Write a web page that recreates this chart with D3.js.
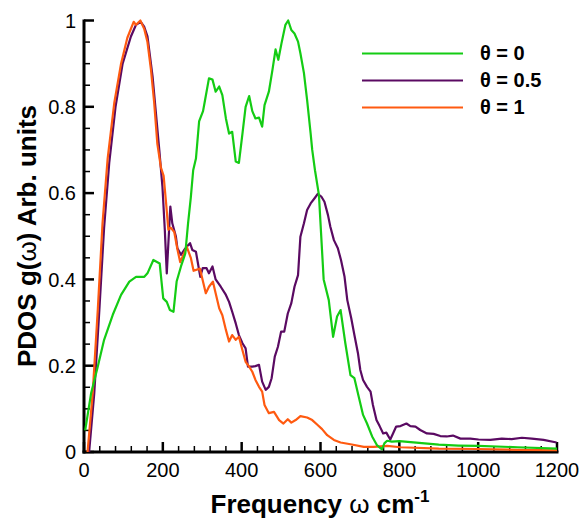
<!DOCTYPE html>
<html>
<head>
<meta charset="utf-8">
<script src="https://cdn.jsdelivr.net/npm/d3@7"></script>
<style>
    body { margin: 0; background: #fff; }
    svg { font-family: "Liberation Sans", Arial, Helvetica, sans-serif; }
</style>
</head>
<body>
<svg id="chart" width="580" height="520"></svg>
<script>
// PDOS curves, [frequency cm^-1, g(w)]
let theta0 = [
    [3, 0.05], [18, 0.136], [35, 0.198], [51, 0.26], [73, 0.318], [94, 0.364], [115, 0.395],
    [132, 0.406], [153, 0.406], [161, 0.414], [176, 0.445], [192, 0.437], [201, 0.356], [210, 0.348],
    [218, 0.329], [227, 0.325], [235, 0.395], [246, 0.43], [257, 0.46], [264, 0.53], [271, 0.59],
    [277, 0.653], [284, 0.68], [292, 0.766], [302, 0.79], [306, 0.81], [317, 0.866], [326, 0.863],
    [334, 0.835], [343, 0.847], [351, 0.827], [360, 0.773], [368, 0.738], [376, 0.742], [385, 0.673],
    [393, 0.67], [402, 0.738], [410, 0.8], [419, 0.825], [427, 0.79], [435, 0.773], [444, 0.775],
    [452, 0.754], [458, 0.804], [469, 0.835], [478, 0.885], [486, 0.933], [493, 0.909], [501, 0.947],
    [511, 0.99], [518, 1.0], [526, 0.978], [534, 0.97], [543, 0.951], [549, 0.924], [558, 0.878],
    [566, 0.816], [575, 0.738], [579, 0.70], [586, 0.653], [596, 0.596], [608, 0.40], [621, 0.352],
    [632, 0.267], [642, 0.314], [651, 0.329], [663, 0.252], [676, 0.178], [686, 0.171], [697, 0.128],
    [708, 0.086], [718, 0.066], [731, 0.036], [743, 0.016], [756, 0.006], [762, 0.02], [769, 0.026],
    [781, 0.024], [800, 0.025], [850, 0.021], [900, 0.017], [950, 0.015], [1000, 0.014],
    [1100, 0.011], [1200, 0.008]
];
let theta05 = [
    [13, 0], [26, 0.136], [39, 0.33], [51, 0.52], [64, 0.67], [80, 0.80], [98, 0.90], [119, 0.963],
    [132, 0.99], [144, 0.997], [153, 0.985], [161, 0.963], [174, 0.87], [191, 0.70], [199, 0.615],
    [205, 0.515], [210, 0.414], [219, 0.569], [224, 0.53], [233, 0.50], [237, 0.472], [246, 0.457],
    [254, 0.468], [261, 0.476], [269, 0.484], [275, 0.468], [284, 0.464], [295, 0.406], [301, 0.426],
    [311, 0.426], [317, 0.414], [326, 0.43], [334, 0.40], [347, 0.383], [360, 0.364], [368, 0.348],
    [376, 0.325], [385, 0.298], [393, 0.271], [402, 0.252], [410, 0.24], [416, 0.198], [427, 0.198],
    [435, 0.199], [444, 0.202], [452, 0.163], [461, 0.144], [469, 0.151], [476, 0.171], [484, 0.221],
    [492, 0.244], [500, 0.279], [508, 0.279], [517, 0.321], [526, 0.345], [534, 0.383], [543, 0.41],
    [549, 0.499], [558, 0.53], [566, 0.561], [575, 0.576], [585, 0.588], [593, 0.598], [602, 0.592],
    [610, 0.58], [619, 0.549], [625, 0.522], [634, 0.491], [644, 0.472], [652, 0.445], [661, 0.406],
    [668, 0.352], [678, 0.31], [686, 0.271], [695, 0.229], [701, 0.19], [708, 0.167], [718, 0.151],
    [727, 0.14], [733, 0.109], [742, 0.074], [750, 0.06], [759, 0.043], [767, 0.045], [777, 0.029],
    [784, 0.043], [792, 0.059], [803, 0.06], [818, 0.066], [828, 0.06], [841, 0.059], [853, 0.051],
    [870, 0.043], [887, 0.042], [904, 0.037], [920, 0.036], [936, 0.038], [955, 0.031], [980, 0.031],
    [1001, 0.029], [1031, 0.028], [1060, 0.031], [1085, 0.03], [1111, 0.033], [1136, 0.031],
    [1166, 0.028], [1199, 0.022]
];
let theta1 = [
    [9, 0], [22, 0.136], [35, 0.33], [47, 0.53], [60, 0.68], [77, 0.81], [94, 0.90], [110, 0.96],
    [126, 0.997], [132, 0.99], [143, 1.0], [153, 0.98], [161, 0.95], [170, 0.885], [178, 0.81],
    [186, 0.715], [195, 0.66], [202, 0.64], [208, 0.58], [214, 0.515], [220, 0.52], [229, 0.51],
    [237, 0.47], [244, 0.44], [261, 0.475], [271, 0.45], [278, 0.42], [294, 0.425], [309, 0.368],
    [317, 0.383], [327, 0.395], [334, 0.368], [343, 0.333], [351, 0.317], [360, 0.283], [368, 0.256],
    [376, 0.271], [385, 0.26], [393, 0.267], [402, 0.236], [410, 0.209], [419, 0.198], [427, 0.186],
    [435, 0.167], [444, 0.151], [452, 0.14], [458, 0.109], [469, 0.09], [482, 0.093], [495, 0.074],
    [506, 0.066], [517, 0.076], [526, 0.068], [537, 0.074], [549, 0.083], [566, 0.08], [579, 0.074],
    [592, 0.063], [604, 0.053], [617, 0.039], [634, 0.028], [651, 0.022], [676, 0.018], [710, 0.012],
    [735, 0.012], [769, 0.014], [803, 0.011], [900, 0.008], [1000, 0.007], [1100, 0.005], [1200, 0.004]
];

let seriesNames = ["θ = 0", "θ = 0.5", "θ = 1"];
let seriesColors = ["#14cc14", "#5a0a62", "#ff5a10"];
let xTicks = [0, 200, 400, 600, 800, 1000, 1200];
let yTicks = [0, 0.2, 0.4, 0.6, 0.8, 1];

let svg = d3.select("#chart");

let x = d3
    .scaleLinear()
    .domain([0, 1200])
    .range([84, 557]);
let y = d3
    .scaleLinear()
    .domain([0, 1])
    .range([452, 20.5]);

// minor ticks first, majors on top
let xMinor = d3.range(0, 1201, 40).filter((d) => d % 200 != 0);
let yMinor = d3.range(0, 1.0001, 0.05).filter((d) => Math.abs(d * 5 - Math.round(d * 5)) > 1e-6);

let axes = svg.append("g");

axes
    .selectAll(".xminor")
    .data(xMinor)
    .enter()
    .append("line")
    .attr("x1", (d) => x(d))
    .attr("x2", (d) => x(d))
    .attr("y1", y(0))
    .attr("y2", y(0) - 6)
    .attr("stroke", "#000")
    .attr("stroke-width", 1.5);

axes
    .selectAll(".xmajor")
    .data(xTicks)
    .enter()
    .append("line")
    .attr("x1", (d) => x(d))
    .attr("x2", (d) => x(d))
    .attr("y1", y(0))
    .attr("y2", y(0) - 10)
    .attr("stroke", "#000")
    .attr("stroke-width", 2.5);

axes
    .selectAll(".yminor")
    .data(yMinor)
    .enter()
    .append("line")
    .attr("x1", x(0))
    .attr("x2", x(0) + 6)
    .attr("y1", (d) => y(d))
    .attr("y2", (d) => y(d))
    .attr("stroke", "#000")
    .attr("stroke-width", 1.5);

axes
    .selectAll(".ymajor")
    .data(yTicks)
    .enter()
    .append("line")
    .attr("x1", x(0))
    .attr("x2", x(0) + 10)
    .attr("y1", (d) => y(d))
    .attr("y2", (d) => y(d))
    .attr("stroke", "#000")
    .attr("stroke-width", 2.5);

// axis lines
axes
    .append("line")
    .attr("x1", x(0))
    .attr("x2", x(0))
    .attr("y1", y(1) - 1)
    .attr("y2", y(0) + 1.5)
    .attr("stroke", "#000")
    .attr("stroke-width", 3);
axes
    .append("line")
    .attr("x1", x(0) - 1.5)
    .attr("x2", x(1200) + 1.5)
    .attr("y1", y(0))
    .attr("y2", y(0))
    .attr("stroke", "#000")
    .attr("stroke-width", 3);

// tick labels
axes
    .selectAll(".xlab")
    .data(xTicks)
    .enter()
    .append("text")
    .attr("x", (d) => x(d))
    .attr("y", 477)
    .attr("text-anchor", "middle")
    .attr("font-size", 20)
    .text((d) => d);

axes
    .selectAll(".ylab")
    .data(yTicks)
    .enter()
    .append("text")
    .attr("x", 76)
    .attr("y", (d) => y(d))
    .attr("dy", "0.36em")
    .attr("text-anchor", "end")
    .attr("font-size", 20)
    .text((d) => d);

// curves
let line = d3
    .line()
    .x((d) => x(d[0]))
    .y((d) => y(d[1]));

let curves = [theta05, theta1, theta0];
let curveColors = [seriesColors[1], seriesColors[2], seriesColors[0]];

svg
    .append("g")
    .selectAll("path")
    .data(curves)
    .enter()
    .append("path")
    .attr("d", (d) => line(d))
    .attr("fill", "none")
    .attr("stroke", (d, i) => curveColors[i])
    .attr("stroke-width", 2.2)
    .attr("stroke-linejoin", "round");

// legend
let legend = svg
    .append("g")
    .selectAll("g")
    .data(seriesNames)
    .enter()
    .append("g")
    .attr("transform", (d, i) => "translate(0," + (53.5 + i * 27) + ")");

legend
    .append("line")
    .attr("x1", 362)
    .attr("x2", 463)
    .attr("stroke", (d, i) => seriesColors[i])
    .attr("stroke-width", 2.2);

legend
    .append("text")
    .attr("x", 480)
    .attr("y", 6.5)
    .attr("font-size", 20)
    .attr("font-weight", "bold")
    .text((d) => d);

// axis titles
let xTitle = svg
    .append("text")
    .attr("x", 320)
    .attr("y", 513)
    .attr("text-anchor", "middle")
    .attr("font-size", 26)
    .attr("font-weight", "bold");
xTitle.append("tspan").text("Frequency ");
xTitle.append("tspan").attr("font-weight", "normal").text("ω");
xTitle.append("tspan").text(" cm");
xTitle.append("tspan").attr("font-size", 17).attr("dy", -11).text("-1");

let yTitle = svg
    .append("text")
    .attr("transform", "translate(36,236) rotate(-90)")
    .attr("text-anchor", "middle")
    .attr("font-size", 26)
    .attr("font-weight", "bold");
yTitle.append("tspan").text("PDOS g(");
yTitle.append("tspan").attr("font-weight", "normal").text("ω");
yTitle.append("tspan").text(") Arb. units");
</script>
</body>
</html>
